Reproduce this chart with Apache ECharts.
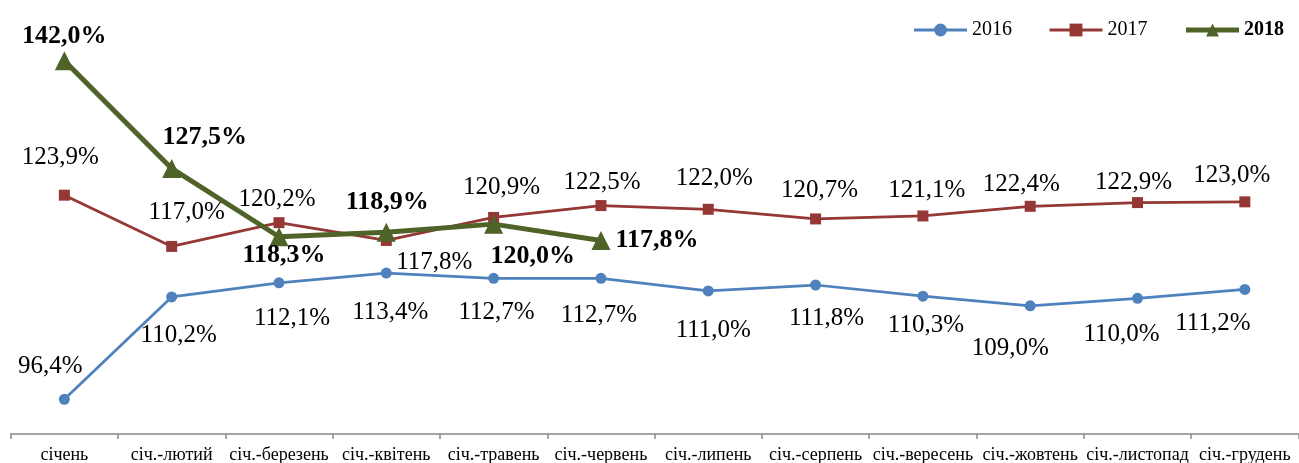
<!DOCTYPE html>
<html>
<head>
<meta charset="utf-8">
<script src="https://cdn.jsdelivr.net/npm/echarts@6/dist/echarts.min.js"></script>
<style>
  html, body { margin: 0; padding: 0; background: #ffffff; }
  #chart { width: 1299px; height: 463px; }
</style>
</head>
<body>
<div id="chart"></div>
<script>
// ---- data ----
const categories = ['січень', 'січ.-лютий', 'січ.-березень', 'січ.-квітень', 'січ.-травень', 'січ.-червень',
  'січ.-липень', 'січ.-серпень', 'січ.-вересень', 'січ.-жовтень', 'січ.-листопад', 'січ.-грудень'];
const seriesNames = ['2016', '2017', '2018'];
const values2016 = [96.4, 110.2, 112.1, 113.4, 112.7, 112.7, 111.0, 111.8, 110.3, 109.0, 110.0, 111.2];
const values2017 = [123.9, 117.0, 120.2, 117.8, 120.9, 122.5, 122.0, 120.7, 121.1, 122.4, 122.9, 123.0];
const values2018 = [142.0, 127.5, 118.3, 118.9, 120.0, 117.8];

// ---- label placement (offsets from each marker, in px) ----
const labelOffsets2016 = [[-14,-33],[7,39],[13,36],[4,39],[3,34],[-2,37],[5,39],[11,33],[3,29],[-20,43],[-16,36],[-32,34]];
const labelOffsets2017 = [[-4,-38],[15,-34],[-2,-23],[48,22],[8,-30],[1,-23],[6,-31],[4,-28],[4,-26],[-9,-22],[-4,-20],[-13,-26]];
const labelOffsets2018 = [[0,-25],[33,-31],[5,19],[1,-30],[39,32],[56,0]];

const FONT = "'Liberation Serif', 'Times New Roman', serif";
const fmt = v => v.toFixed(1).replace('.', ',') + '%';

function buildData(vals, offs) {
  return vals.map((v, i) => ({ value: v, label: { offset: offs[i] } }));
}

const chart = echarts.init(document.getElementById('chart'), null, { renderer: 'canvas' });
chart.setOption({
  animation: false,
  backgroundColor: '#ffffff',
  grid: { left: 10.7, right: 0.5, top: 0, bottom: 29, containLabel: false, outerBoundsMode: 'none' },
  legend: {
    right: 10,
    top: 15,
    itemWidth: 53,
    itemHeight: 16,
    itemGap: 36,
    textStyle: { fontFamily: FONT, fontSize: 20, color: '#000' },
    data: [
      { name: seriesNames[0], lineStyle: { width: 3 } },
      { name: seriesNames[1], lineStyle: { width: 3 } },
      { name: seriesNames[2], lineStyle: { width: 5 }, textStyle: { fontWeight: 'bold' } }
    ]
  },
  xAxis: {
    type: 'category',
    data: categories,
    boundaryGap: true,
    axisLine: { show: true, lineStyle: { color: '#888888', width: 1.5 } },
    axisTick: { show: true, length: 5, lineStyle: { color: '#888888', width: 1.5 } },
    axisLabel: { interval: 0, fontFamily: FONT, fontSize: 18, color: '#000', margin: 12 },
    splitLine: { show: false }
  },
  yAxis: {
    type: 'value',
    min: 91.73,
    max: 150.19,
    show: false,
    splitLine: { show: false }
  },
  series: [
    {
      name: seriesNames[0],
      type: 'line',
      data: buildData(values2016, labelOffsets2016),
      color: '#4F81BD',
      symbol: 'circle',
      symbolSize: 11,
      lineStyle: { width: 2.75, color: '#4F81BD' },
      itemStyle: { color: '#4F81BD' },
      label: {
        show: true, position: 'inside', color: '#000', fontFamily: FONT, fontSize: 25,
        textBorderWidth: 0, formatter: p => fmt(p.value)
      }
    },
    {
      name: seriesNames[1],
      type: 'line',
      data: buildData(values2017, labelOffsets2017),
      color: '#953735',
      symbol: 'rect',
      symbolSize: 11,
      lineStyle: { width: 2.75, color: '#953735' },
      itemStyle: { color: '#953735' },
      label: {
        show: true, position: 'inside', color: '#000', fontFamily: FONT, fontSize: 25,
        textBorderWidth: 0, formatter: p => fmt(p.value)
      }
    },
    {
      name: seriesNames[2],
      type: 'line',
      data: buildData(values2018, labelOffsets2018),
      color: '#4F6228',
      symbol: 'triangle',
      symbolSize: 19,
      lineStyle: { width: 5, color: '#4F6228' },
      itemStyle: { color: '#4F6228' },
      label: {
        show: true, position: 'inside', color: '#000', fontFamily: FONT, fontSize: 26,
        fontWeight: 'bold', textBorderWidth: 0, formatter: p => fmt(p.value)
      }
    }
  ]
});
</script>
</body>
</html>
